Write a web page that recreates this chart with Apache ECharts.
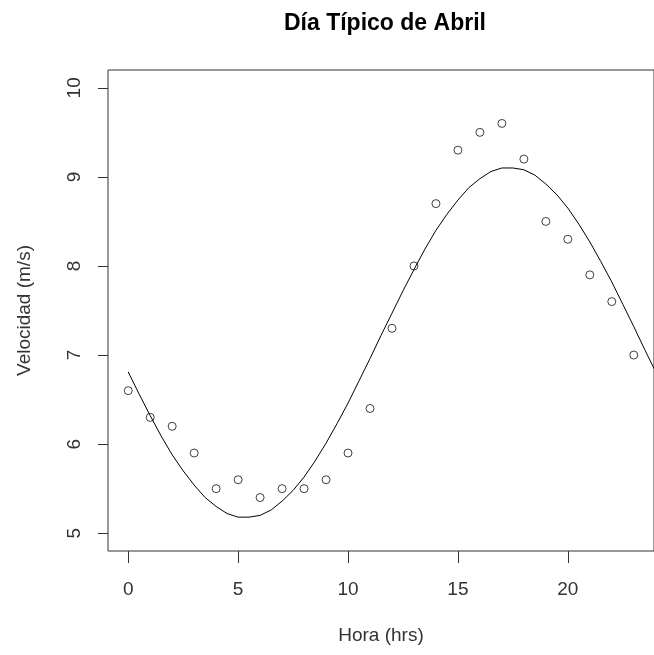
<!DOCTYPE html>
<html>
<head>
<meta charset="utf-8">
<script src="https://cdn.jsdelivr.net/npm/echarts@6/dist/echarts.min.js"></script>
<style>
  html, body { margin: 0; padding: 0; background: #fff; }
  #chart { width: 654px; height: 655px; }
</style>
</head>
<body>
<div id="chart"></div>
<script>
// horas y velocidades medidas (circulos)
var horas = [0, 1, 2, 3, 4, 5, 6, 7, 8, 9, 10, 11, 12, 13, 14, 15, 16, 17, 18, 19, 20, 21, 22, 23];
var velocidad = [6.6, 6.3, 6.2, 5.9, 5.5, 5.6, 5.4, 5.5, 5.5, 5.6, 5.9, 6.4, 7.3, 8.0, 8.7, 9.3, 9.5, 9.6, 9.2, 8.5, 8.3, 7.9, 7.6, 7.0];

var horasCurva = [0, 0.5, 1, 1.5, 2, 2.5, 3, 3.5, 4, 4.5, 5, 5.5, 6, 6.5, 7, 7.5, 8, 8.5, 9, 9.5, 10, 10.5, 11, 11.5,
  12, 12.5, 13, 13.5, 14, 14.5, 15, 15.5, 16, 16.5, 17, 17.5, 18, 18.5, 19, 19.5, 20, 20.5, 21, 21.5, 22, 22.5, 23, 23.5, 24];
var curva = [6.81, 6.56, 6.32, 6.09, 5.88, 5.70, 5.54, 5.40, 5.30, 5.22, 5.18, 5.18, 5.20, 5.26, 5.36, 5.48, 5.63, 5.81, 6.01, 6.23, 6.46, 6.71, 6.96, 7.22,
  7.47, 7.72, 7.96, 8.19, 8.40, 8.58, 8.74, 8.88, 8.98, 9.06, 9.10, 9.10, 9.08, 9.02, 8.92, 8.80, 8.65, 8.47, 8.27, 8.05, 7.82, 7.57, 7.32, 7.06, 6.81];

var ticksX = [0, 5, 10, 15, 20];
var ticksY = [5, 6, 7, 8, 9, 10];

var puntos = [];
for (var i = 0; i < horas.length; i++) {
  puntos.push([horas[i], velocidad[i]]);
}
var linea = [];
for (var j = 0; j < horasCurva.length; j++) {
  linea.push([horasCurva[j], curva[j]]);
}

var chart = echarts.init(document.getElementById('chart'));
chart.setOption({
  backgroundColor: '#fff',
  animation: false,
  title: {
    text: 'Día Típico de Abril',
    left: 279,
    top: 7,
    textStyle: {
      fontFamily: 'Liberation Sans',
      fontSize: 23,
      fontWeight: 'bold',
      color: '#000'
    }
  },
  grid: {
    left: 108,
    top: 70,
    right: -9,
    bottom: 104,
    show: true,
    borderColor: '#333',
    borderWidth: 1
  },
  xAxis: {
    type: 'value',
    min: -0.92,
    max: 23.92,
    name: 'Hora (hrs)',
    nameLocation: 'middle',
    nameGap: 75,
    nameTextStyle: { fontFamily: 'Liberation Sans', fontSize: 19, color: '#333' },
    axisLine: { show: false, onZero: false },
    splitLine: { show: false },
    axisTick: {
      show: true,
      length: 12,
      customValues: ticksX,
      lineStyle: { color: '#333' }
    },
    axisLabel: {
      customValues: ticksX,
      margin: 29,
      fontFamily: 'Liberation Sans',
      fontSize: 19,
      color: '#333'
    }
  },
  yAxis: {
    type: 'value',
    min: 4.8,
    max: 10.2,
    name: 'Velocidad (m/s)',
    nameLocation: 'middle',
    nameRotate: 90,
    nameGap: 74,
    nameTextStyle: { fontFamily: 'Liberation Sans', fontSize: 19, color: '#333' },
    axisLine: { show: false, onZero: false },
    splitLine: { show: false },
    axisTick: {
      show: true,
      length: 10,
      customValues: ticksY,
      lineStyle: { color: '#333' }
    },
    axisLabel: {
      customValues: ticksY,
      rotate: 90,
      margin: 24,
      fontFamily: 'Liberation Sans',
      fontSize: 19,
      color: '#333'
    }
  },
  series: [{
    type: 'line',
    data: linea,
    smooth: false,
    showSymbol: false,
    lineStyle: { color: '#000', width: 1 },
    silent: true
  }, {
    type: 'scatter',
    data: puntos,
    symbol: 'circle',
    symbolSize: 8,
    itemStyle: { color: 'rgba(0,0,0,0)', borderColor: '#111', borderWidth: 1 }
  }]
});
</script>
</body>
</html>
